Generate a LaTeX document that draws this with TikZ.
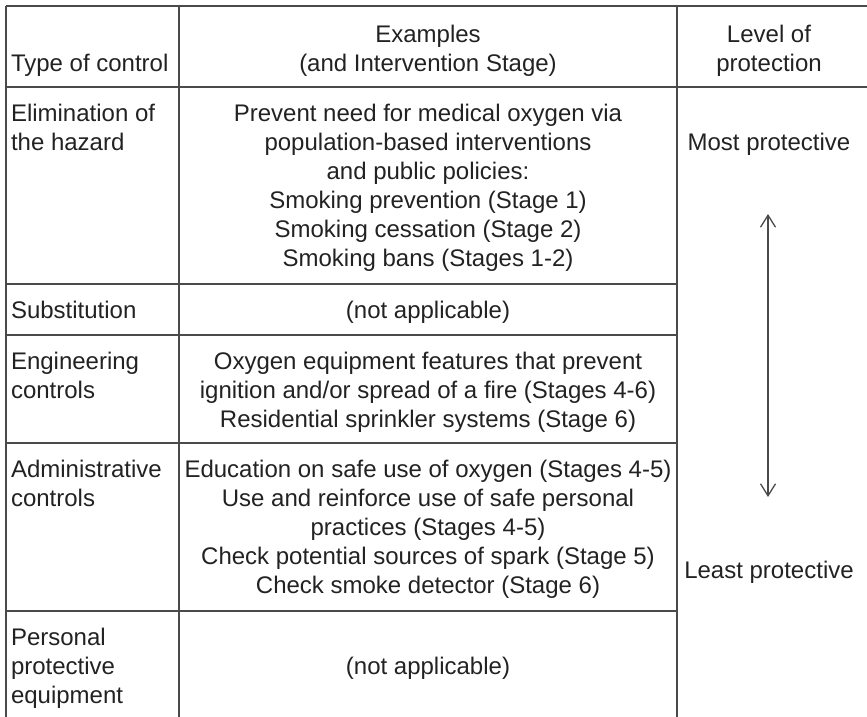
\documentclass[tikz,border=0pt]{standalone}
\usepackage{fontspec}
\setmainfont{Liberation Sans}
\usetikzlibrary{arrows.meta}
\definecolor{rulec}{HTML}{4A4A4A}
\definecolor{ink}{HTML}{222222}
\begin{document}
\begin{tikzpicture}[x=1pt,y=-1pt,
  every node/.style={inner sep=0pt, outer sep=0pt, text=ink, font=\fontsize{24}{29}\selectfont},
  lt/.style={anchor=base west},
  ct/.style={anchor=base},
  tabrule/.style={draw=rulec, line width=1.3pt},
  protarrow/.style={draw=rulec, line width=1.3pt, {Straight Barb[length=12pt,width=15pt]}-{Straight Barb[length=12pt,width=15pt]}}]
\useasboundingbox (0,0) rectangle (867,717);
% rules
\draw[tabrule] (6,6) -- (867,6);
\draw[tabrule] (6,87) -- (867,87);
\draw[tabrule] (6,284) -- (677,284);
\draw[tabrule] (6,335) -- (677,335);
\draw[tabrule] (6,443) -- (677,443);
\draw[tabrule] (6,611) -- (677,611);
\draw[tabrule] (6,6) -- (6,717);
\draw[tabrule] (179,6) -- (179,717);
\draw[tabrule] (677,6) -- (677,717);
% header
\node[lt] (h1) at (11,71.5) {Type of control};
\node[ct] (h2a) at (428,42.5) {Examples};
\node[ct] (h2b) at (428,71.5) {(and Intervention Stage)};
\node[ct] (h3a) at (769,42.5) {Level of};
\node[ct] (h3b) at (769,71.5) {protection};
% elimination
\node[lt] (e1) at (11,121.5) {Elimination of};
\node[lt] (e2) at (11,150.5) {the hazard};
\node[ct] (em1) at (428,121.5) {Prevent need for medical oxygen via};
\node[ct] (em2) at (428,150.5) {population-based interventions};
\node[ct] (em3) at (428,179.5) {and public policies:};
\node[ct] (em4) at (428,208.5) {Smoking prevention (Stage 1)};
\node[ct] (em5) at (428,237.5) {Smoking cessation (Stage 2)};
\node[ct] (em6) at (428,266.5) {Smoking bans (Stages 1-2)};
\node[ct] (most) at (769,150.5) {Most protective};
% substitution
\node[lt] (s1) at (11,318.5) {Substitution};
\node[ct] (sm1) at (428,318.5) {(not applicable)};
% engineering
\node[lt] (g1) at (11,369.5) {Engineering};
\node[lt] (g2) at (11,398.5) {controls};
\node[ct] (gm1) at (428,369.5) {Oxygen equipment features that prevent};
\node[ct] (gm2) at (428,398.5) {ignition and/or spread of a fire (Stages 4-6)};
\node[ct] (gm3) at (428,427.5) {Residential sprinkler systems (Stage 6)};
% administrative
\node[lt] (a1) at (11,477.5) {Administrative};
\node[lt] (a2) at (11,506.5) {controls};
\node[ct] (am1) at (428,477.5) {Education on safe use of oxygen (Stages 4-5)};
\node[ct] (am2) at (428,506.5) {Use and reinforce use of safe personal};
\node[ct] (am3) at (428,535.5) {practices (Stages 4-5)};
\node[ct] (am4) at (428,564.5) {Check potential sources of spark (Stage 5)};
\node[ct] (am5) at (428,593.5) {Check smoke detector (Stage 6)};
\node[ct] (least) at (769,578) {Least protective};
% PPE
\node[lt] (p1) at (11,645.5) {Personal};
\node[lt] (p2) at (11,674.5) {protective};
\node[lt] (p3) at (11,703.5) {equipment};
\node[ct] (pm1) at (428,674.5) {(not applicable)};
% arrow
\coordinate (atop) at (768,214);
\coordinate (abot) at (768,497);
\draw[protarrow] (atop) -- (abot);
\end{tikzpicture}
\end{document}
